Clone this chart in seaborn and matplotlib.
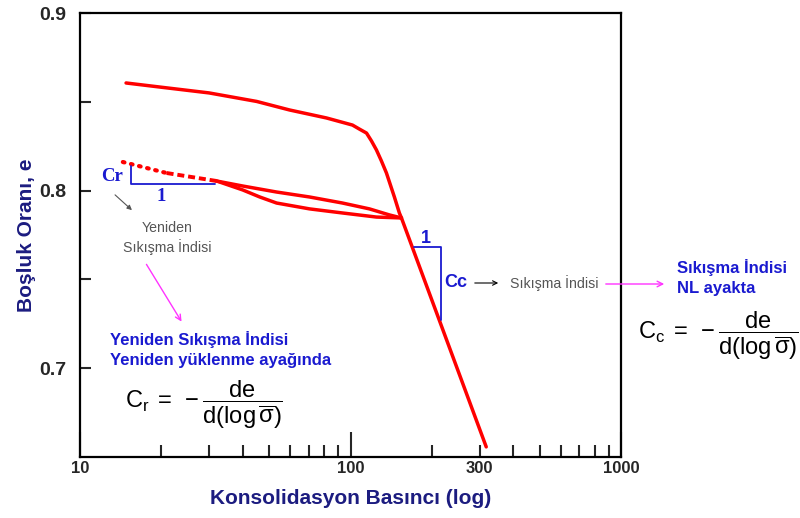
import numpy as np
import pandas as pd
import seaborn as sns
import matplotlib.pyplot as plt
from matplotlib.ticker import FixedLocator, FuncFormatter, NullFormatter

# --- veriler ---
# normal konsolidasyon (NL) eğrisi
virgin_p = [14.8, 20, 30, 45, 59.5, 81.5, 101.7, 107.7, 114.6, 119.5, 124.7,
            130.1, 135.8, 145.3, 151.6, 154.3, 317.5]
virgin_e = [0.8606, 0.8582, 0.855, 0.8502, 0.8454, 0.8409, 0.8369, 0.8347, 0.8324,
            0.828, 0.8229, 0.8167, 0.8099, 0.7964, 0.7874, 0.7846, 0.6557]
# boşaltma ayağı (üst)
unload_p = [154.3, 139.3, 117.5, 93.4, 70.6, 53.3, 39.9, 32.0]
unload_e = [0.7846, 0.7863, 0.7897, 0.7930, 0.7964, 0.7992, 0.8026, 0.8054]
# yeniden yükleme ayağı (alt)
reload_p = [32.0, 39.9, 46.2, 53.3, 70.6, 93.4, 124.7, 154.3]
reload_e = [0.8054, 0.8004, 0.7964, 0.7930, 0.7897, 0.7874, 0.7851, 0.7846]
# kesikli uzantı
dot_p = [14.4, 20.9]
dot_e = [0.8161, 0.8099]
dash_p = [20.9, 32.0]
dash_e = [0.8099, 0.8054]
# eğim üçgenleri
cr_tri_p = [15.5, 15.5, 31.5]
cr_tri_e = [0.8139, 0.8037, 0.8037]
cc_tri_p = [172.2, 216.6, 216.6]
cc_tri_e = [0.7683, 0.7683, 0.7272]

x_labels = {10: '10', 100: '100', 300: '300', 1000: '1000'}
y_labels = ['0.7', '0.8', '0.9']

RED = '#FF0000'
BLUE = '#1A1AD0'
NAVY = '#1C1C80'
GREY = '#555555'
PINK = '#FF33FF'

sns.set_style('ticks')
plt.rcParams['font.family'] = ['Liberation Sans', 'DejaVu Sans']
plt.rcParams['mathtext.fontset'] = 'custom'
plt.rcParams['mathtext.rm'] = 'Liberation Sans'
plt.rcParams['mathtext.it'] = 'Liberation Sans'
plt.rcParams['mathtext.bf'] = 'Liberation Sans:bold'

W, H = 800, 518
fig = plt.figure(figsize=(W / 100, H / 100), dpi=100)
ax = fig.add_axes([80 / W, 1 - 457 / H, 541 / W, 444 / H])


def P(px, py):
    return (px / W, 1 - py / H)


def line(xs, ys, **kw):
    df = pd.DataFrame({'p': xs, 'e': ys})
    sns.lineplot(data=df, x='p', y='e', sort=False, estimator=None, ax=ax, **kw)


line(virgin_p, virgin_e, color=RED, lw=2.5, solid_joinstyle='round')
line(unload_p, unload_e, color=RED, lw=2.5, solid_joinstyle='round')
line(reload_p, reload_e, color=RED, lw=2.5, solid_joinstyle='round')
line(dot_p, dot_e, color=RED, lw=3.0, linestyle=(0, (0.4, 1.6)),
     dash_capstyle='round')
line(dash_p, dash_e, color=RED, lw=2.8, linestyle=(0, (1.8, 1.0)))
line(cr_tri_p, cr_tri_e, color=BLUE, lw=1.3)
line(cc_tri_p, cc_tri_e, color=BLUE, lw=1.3)

ax.set_xscale('log')
ax.set_xlim(10, 1000)
ax.set_ylim(0.65, 0.9)

# eksen çizgileri ve tikler
for s in ax.spines.values():
    s.set_linewidth(1.6)
    s.set_color('black')
ax.xaxis.set_major_locator(FixedLocator([10, 100, 1000]))
ax.xaxis.set_minor_locator(FixedLocator([20, 30, 40, 50, 60, 70, 80, 90,
                                          200, 300, 400, 500, 600, 700, 800, 900]))
fmt = FuncFormatter(lambda v, pos: x_labels.get(int(round(v)), ''))
ax.xaxis.set_major_formatter(fmt)
ax.xaxis.set_minor_formatter(fmt)
ax.tick_params(axis='x', which='major', direction='in', length=18, width=1.5,
               labelsize=12, pad=3)
ax.tick_params(axis='x', which='minor', direction='in', length=8.5, width=1.5,
               labelsize=12, pad=3)
ax.set_yticks([0.7, 0.8, 0.9])
ax.set_yticklabels(y_labels)
ax.set_yticks([0.75, 0.85], minor=True)
ax.yaxis.set_minor_formatter(NullFormatter())
ax.tick_params(axis='y', which='both', direction='in', length=8, width=1.5,
               labelsize=14, pad=10)
for t in ax.get_xticklabels(which='both') + ax.get_yticklabels():
    t.set_fontweight('bold')

ax.set_xlabel('Konsolidasyon Basıncı (log)', fontsize=15, fontweight='bold',
              color=NAVY, labelpad=9)
ax.set_ylabel('Boşluk Oranı, e', fontsize=15, fontweight='bold', color=NAVY,
              labelpad=2)

# eğim etiketleri
ax.text(13.1, 0.8077, 'Cr', family='Liberation Serif', fontweight='bold',
        fontsize=13.5, color=BLUE, ha='center', va='center')
ax.text(19.9, 0.7964, '1', family='Liberation Serif', fontweight='bold',
        fontsize=13.5, color=BLUE, ha='center', va='center')
ax.text(190.7, 0.7733, '1', fontweight='bold', fontsize=13, color=BLUE,
        ha='center', va='center')
ax.text(246, 0.748, 'Cc', fontweight='bold', fontsize=13, color=BLUE,
        ha='center', va='center')

# açıklama okları ve metinler
fig.text(*P(167, 238), 'Yeniden\nSıkışma İndisi', fontsize=10.2, color=GREY,
         ha='center', va='center', linespacing=1.3)
ax.annotate('', xy=P(134, 212), xytext=P(113, 193), xycoords='figure fraction',
            textcoords='figure fraction',
            arrowprops=dict(arrowstyle='-|>', color=GREY, lw=0.8, mutation_scale=7))
ax.annotate('', xy=P(183, 324), xytext=P(145, 262), xycoords='figure fraction',
            textcoords='figure fraction',
            arrowprops=dict(arrowstyle='->', color=PINK, lw=1.0, mutation_scale=10))
fig.text(*P(110, 339), 'Yeniden Sıkışma İndisi', fontsize=12, fontweight='bold',
         color=BLUE, ha='left', va='center')
fig.text(*P(110, 360), 'Yeniden yüklenme ayağında', fontsize=12,
         fontweight='bold', color=BLUE, ha='left', va='center')
fig.text(*P(204, 405),
         r'$\mathrm{C_r}\;=\;-\dfrac{\mathrm{de}}{\mathrm{d(log\,\overline{\sigma})}}$',
         fontsize=17, color='black', ha='center', va='center')

ax.annotate('', xy=P(501, 283), xytext=P(472, 283), xycoords='figure fraction',
            textcoords='figure fraction',
            arrowprops=dict(arrowstyle='->', color='black', lw=0.8, mutation_scale=8))
fig.text(*P(510, 283), 'Sıkışma İndisi', fontsize=10.2, color=GREY,
         ha='left', va='center')
ax.annotate('', xy=P(667, 284), xytext=P(603, 284), xycoords='figure fraction',
            textcoords='figure fraction', annotation_clip=False,
            arrowprops=dict(arrowstyle='->', color=PINK, lw=1.0, mutation_scale=10))
fig.text(*P(677, 268), 'Sıkışma İndisi', fontsize=12, fontweight='bold',
         color=BLUE, ha='left', va='center')
fig.text(*P(677, 289), 'NL ayakta', fontsize=12, fontweight='bold',
         color=BLUE, ha='left', va='center')
fig.text(*P(718, 336),
         r'$\mathrm{C_c}\;=\;-\dfrac{\mathrm{de}}{\mathrm{d(log\,\overline{\sigma})}}$',
         fontsize=17, color='black', ha='center', va='center')

fig.savefig('out.png', dpi=100)
plt.close(fig)
